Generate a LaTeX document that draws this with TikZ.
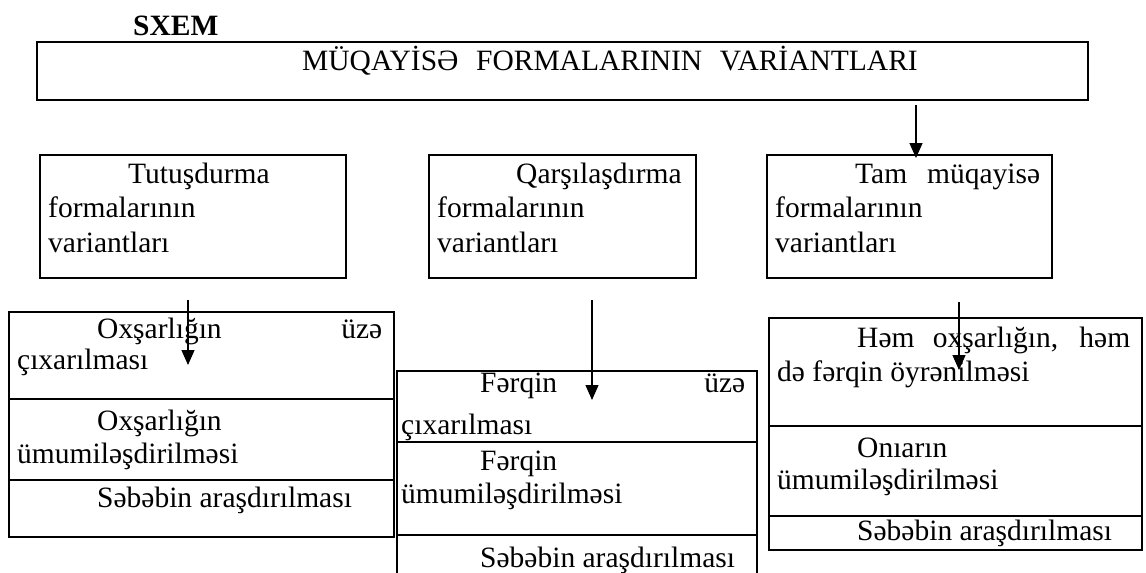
\documentclass[tikz,border=0pt]{standalone}
\usepackage{fontspec}
\setmainfont{Liberation Serif}
\usetikzlibrary{arrows.meta}
\begin{document}
\begin{tikzpicture}[x=1pt,y=-1pt,
  box/.style={draw,line width=1.8pt,anchor=north west,inner sep=0pt,outer sep=0pt},
  txt/.style={anchor=base west,inner sep=0pt,font=\fontsize{29.5}{34}\selectfont},
  arr/.style={line width=1.3pt,-{Triangle[length=15pt,width=13pt]}}]
\clip (0,0) rectangle (1146,573);
% heading
\node[txt,font=\bfseries\fontsize{29.5}{34}\selectfont] (sxem) at (133,35) {SXEM};
\node[box,minimum width=1051pt,minimum height=58pt] (top) at (37,42) {};
\node[txt] (ttl) at (302,70) {MÜQAYİSƏ\hspace{0.6em}FORMALARININ\hspace{0.6em}VARİANTLARI};
% middle row
\node[box,minimum width=306pt,minimum height=123pt] (A) at (40,155) {};
\node[txt] (A1) at (128,183) {Tutuşdurma};
\node[txt] (A2) at (48,217) {formalarının};
\node[txt] (A3) at (48,252) {variantları};
\node[box,minimum width=267pt,minimum height=123pt] (B) at (429,155) {};
\node[txt] (B1) at (516,183) {Qarşılaşdırma};
\node[txt] (B2) at (437,217) {formalarının};
\node[txt] (B3) at (437,252) {variantları};
\node[box,minimum width=285pt,minimum height=123pt] (C) at (767,155) {};
\node[txt] (C1) at (855,183) {\makebox[185pt][s]{Tam müqayisə}};
\node[txt] (C2) at (775,217) {formalarının};
\node[txt] (C3) at (775,252) {variantları};
% bottom left
\node[box,minimum width=385pt,minimum height=87pt] (L1) at (9,312) {};
\node[box,minimum width=385pt,minimum height=81pt] (L2) at (9,399) {};
\node[box,minimum width=385pt,minimum height=57pt] (L3) at (9,480) {};
\node[txt] (L1a) at (97,338) {\makebox[285pt][s]{Oxşarlığın üzə}};
\node[txt] (L1b) at (17,369) {çıxarılması};
\node[txt] (L2a) at (97,430) {Oxşarlığın};
\node[txt] (L2b) at (17,463) {ümumiləşdirilməsi};
\node[txt] (L3a) at (97,507) {Səbəbin araşdırılması};
% bottom middle
\node[box,minimum width=360pt,minimum height=71pt] (M1) at (397,371) {};
\node[box,minimum width=360pt,minimum height=93pt] (M2) at (397,442) {};
\node[box,minimum width=360pt,minimum height=50pt] (M3) at (397,535) {};
\node[txt] (M1a) at (480,392) {\makebox[265pt][s]{Fərqin üzə}};
\node[txt] (M1b) at (401,434) {çıxarılması};
\node[txt] (M2a) at (480,470) {Fərqin};
\node[txt] (M2b) at (401,503) {ümumiləşdirilməsi};
\node[txt] (M3a) at (480,567) {Səbəbin araşdırılması};
% bottom right
\node[box,minimum width=373pt,minimum height=108pt] (R1) at (769,318) {};
\node[box,minimum width=373pt,minimum height=90pt] (R2) at (769,426) {};
\node[box,minimum width=373pt,minimum height=34pt] (R3) at (769,516) {};
\node[txt] (R1a) at (857,347) {\makebox[273pt][s]{Həm oxşarlığın, həm}};
\node[txt] (R1b) at (777,381) {də fərqin öyrənilməsi};
\node[txt] (R2a) at (857,457) {Onıarın};
\node[txt] (R2b) at (777,489) {ümumiləşdirilməsi};
\node[txt] (R3a) at (857,540) {Səbəbin araşdırılması};
% arrows
\coordinate (t0) at (916,105); \coordinate (t1) at (916,158);
\coordinate (a0) at (188,300); \coordinate (a1) at (188,365);
\coordinate (b0) at (592,300); \coordinate (b1) at (592,400);
\coordinate (c0) at (959,302); \coordinate (c1) at (959,370);
\draw[arr] (t0) -- (t1);
\draw[arr] (a0) -- (a1);
\draw[arr] (b0) -- (b1);
\draw[arr] (c0) -- (c1);
\end{tikzpicture}
\end{document}
